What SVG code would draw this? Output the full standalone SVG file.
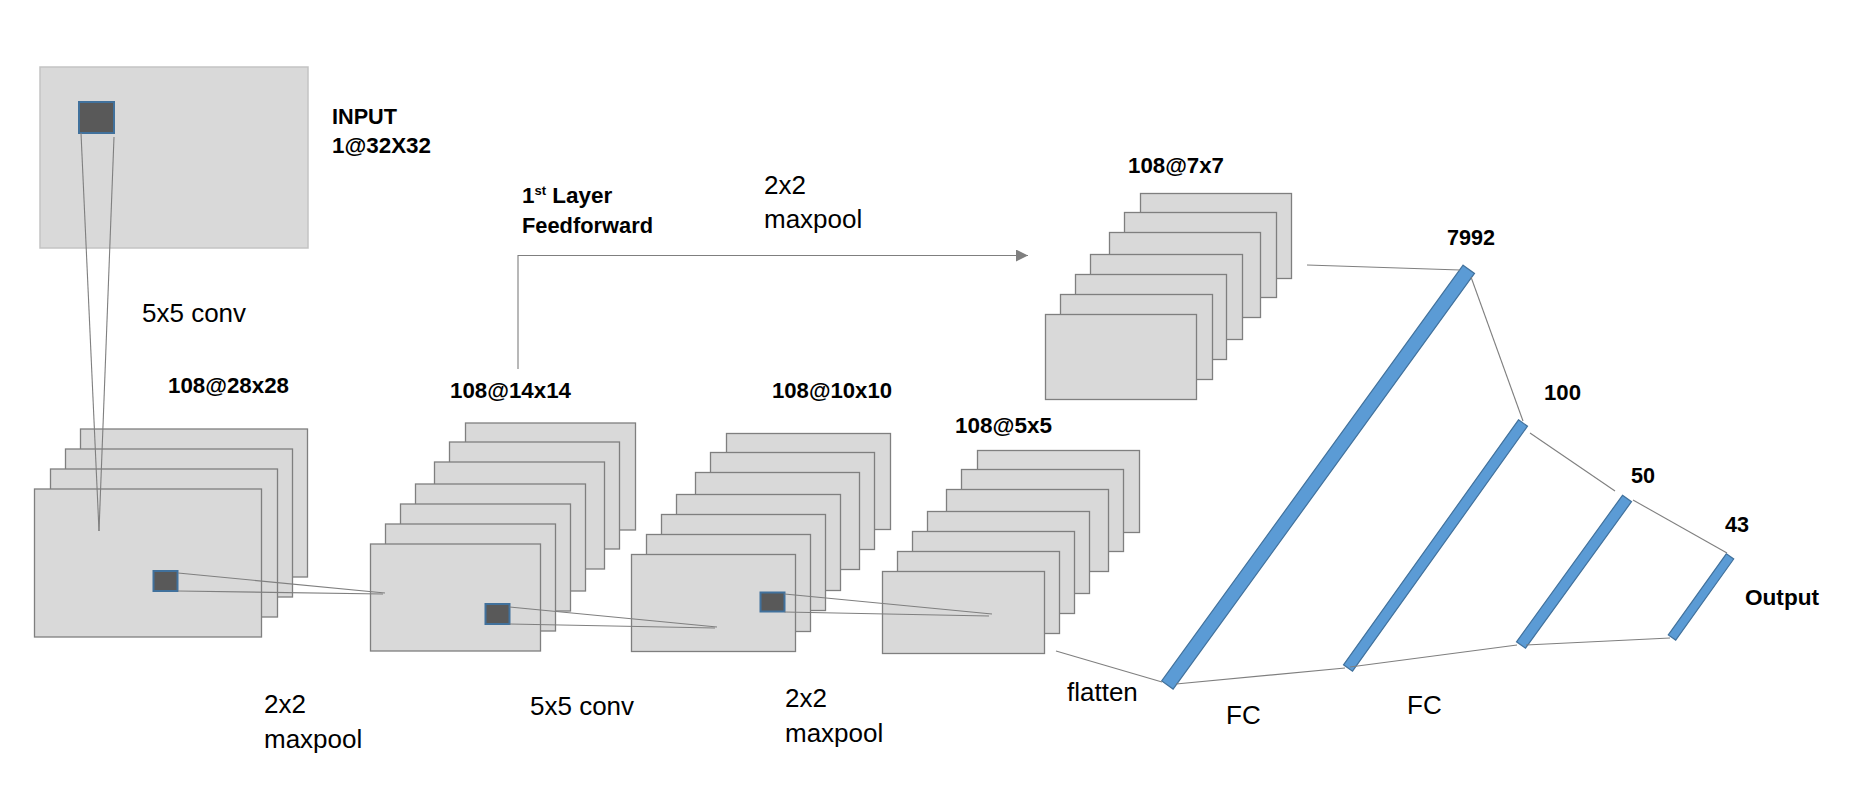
<svg xmlns="http://www.w3.org/2000/svg" width="1875" height="804" viewBox="0 0 1875 804">
<style>
.map{fill:#d9d9d9;stroke:#7f7f7f;stroke-width:1.3}
.inp{fill:#d9d9d9;stroke:#c3c3c3;stroke-width:1.5}
.ker{fill:#595959;stroke:#41719c;stroke-width:2}
.bar{fill:#5b9bd5;stroke:#41719c;stroke-width:1.2}
.ln{fill:none;stroke:#7f7f7f;stroke-width:1.1}
.b{font-family:"Liberation Sans",Arial,sans-serif;font-weight:bold;font-size:22.5px;fill:#000}
.r{font-family:"Liberation Sans",Arial,sans-serif;font-size:26px;fill:#000}
</style>
<defs>
<marker id="arr" markerUnits="userSpaceOnUse" markerWidth="13" markerHeight="13" refX="12" refY="6" orient="auto">
<path d="M0,0 L12,6 L0,12 z" fill="#7f7f7f"/>
</marker>
</defs>
<rect width="1875" height="804" fill="#fff"/>

<g id="input">
<rect class="inp" x="40" y="67" width="268" height="181"/>
<rect class="ker" x="79" y="102" width="35" height="31"/>
<text class="b" x="332" y="124" textLength="65" lengthAdjust="spacingAndGlyphs">INPUT</text>
<text class="b" x="332" y="153" textLength="99" lengthAdjust="spacingAndGlyphs">1@32X32</text>
</g>

<g id="conv1-maps">
<rect class="map" x="80.5" y="429" width="227" height="148"/>
<rect class="map" x="65.5" y="449" width="227" height="148"/>
<rect class="map" x="50.5" y="469" width="227" height="148"/>
<rect class="map" x="34.5" y="489" width="227" height="148"/>
<rect class="ker" x="153.5" y="571" width="24" height="20"/>
<text class="b" x="168" y="393" textLength="121" lengthAdjust="spacingAndGlyphs">108@28x28</text>
</g>

<g id="pool1-maps">
<rect class="map" x="465.5" y="423" width="170" height="107"/>
<rect class="map" x="449.5" y="442" width="170" height="107"/>
<rect class="map" x="434.5" y="462" width="170" height="107"/>
<rect class="map" x="415.5" y="484" width="170" height="107"/>
<rect class="map" x="400.5" y="504" width="170" height="107"/>
<rect class="map" x="385.5" y="524" width="170" height="107"/>
<rect class="map" x="370.5" y="544" width="170" height="107"/>
<rect class="ker" x="485.5" y="604" width="24" height="20"/>
<text class="b" x="450" y="398" textLength="121" lengthAdjust="spacingAndGlyphs">108@14x14</text>
</g>

<g id="conv2-maps">
<rect class="map" x="726.5" y="433.5" width="164" height="96"/>
<rect class="map" x="710.5" y="452.5" width="164" height="97"/>
<rect class="map" x="695.5" y="472.5" width="164" height="97"/>
<rect class="map" x="676.5" y="494.5" width="164" height="96"/>
<rect class="map" x="661.5" y="514.5" width="164" height="96"/>
<rect class="map" x="646.5" y="534.5" width="164" height="97"/>
<rect class="map" x="631.5" y="554.5" width="164" height="97"/>
<rect class="ker" x="760.5" y="592.5" width="24" height="19"/>
<text class="b" x="772" y="398" textLength="120" lengthAdjust="spacingAndGlyphs">108@10x10</text>
</g>

<g id="pool2-maps">
<rect class="map" x="977.5" y="450.5" width="162" height="82"/>
<rect class="map" x="961.5" y="469.5" width="162" height="82"/>
<rect class="map" x="946.5" y="489.5" width="162" height="82"/>
<rect class="map" x="927.5" y="511.5" width="162" height="82"/>
<rect class="map" x="912.5" y="531.5" width="162" height="82"/>
<rect class="map" x="897.5" y="551.5" width="162" height="82"/>
<rect class="map" x="882.5" y="571.5" width="162" height="82"/>
<text class="b" x="955" y="433" textLength="97" lengthAdjust="spacingAndGlyphs">108@5x5</text>
</g>

<g id="ff-maps">
<rect class="map" x="1140.5" y="193.5" width="151" height="85"/>
<rect class="map" x="1124.5" y="212.5" width="152" height="85"/>
<rect class="map" x="1109.5" y="232.5" width="151" height="85"/>
<rect class="map" x="1090.5" y="254.5" width="152" height="85"/>
<rect class="map" x="1075.5" y="274.5" width="151" height="85"/>
<rect class="map" x="1060.5" y="294.5" width="152" height="85"/>
<rect class="map" x="1045.5" y="314.5" width="151" height="85"/>
<text class="b" x="1128" y="173" textLength="96" lengthAdjust="spacingAndGlyphs">108@7x7</text>
</g>

<g id="fc-7992">
<polygon class="bar" points="1463.1,265.2 1474.5,273.4 1173.1,689.1 1161.7,680.9"/>
<text class="b" x="1447" y="245" textLength="48" lengthAdjust="spacingAndGlyphs">7992</text>
</g>
<g id="fc-100">
<polygon class="bar" points="1518.5,419.8 1527.5,426.2 1352.5,671.2 1343.5,664.8"/>
<text class="b" x="1544" y="400" textLength="37" lengthAdjust="spacingAndGlyphs">100</text>
</g>
<g id="fc-50">
<polygon class="bar" points="1622.5,495.3 1631.5,501.7 1525.5,648.2 1516.5,641.8"/>
<text class="b" x="1631" y="483" textLength="24" lengthAdjust="spacingAndGlyphs">50</text>
</g>
<g id="fc-43">
<polygon class="bar" points="1726.3,553.8 1733.7,559 1675.7,640.1 1668.3,634.9"/>
<text class="b" x="1725" y="532" textLength="24" lengthAdjust="spacingAndGlyphs">43</text>
<text class="b" x="1745" y="605" textLength="74" lengthAdjust="spacingAndGlyphs">Output</text>
</g>

<g id="connectors">
<line class="ln" x1="81" y1="133" x2="99" y2="531"/>
<line class="ln" x1="114" y1="137" x2="99" y2="531"/>
<line class="ln" x1="178" y1="573" x2="385" y2="593"/>
<line class="ln" x1="178" y1="591" x2="383" y2="594"/>
<line class="ln" x1="509.5" y1="607" x2="717" y2="627"/>
<line class="ln" x1="509.5" y1="624" x2="715" y2="628"/>
<line class="ln" x1="784.5" y1="594" x2="992" y2="614"/>
<line class="ln" x1="784.5" y1="612" x2="989" y2="616"/>
<polyline class="ln" points="518,369 518,255.5 1028,255.5" marker-end="url(#arr)"/>
<line class="ln" x1="1056" y1="651" x2="1162" y2="682"/>
<line class="ln" x1="1307" y1="265" x2="1460" y2="270"/>
<line class="ln" x1="1471" y1="277" x2="1523" y2="421"/>
<line class="ln" x1="1530" y1="433" x2="1615" y2="491"/>
<line class="ln" x1="1633" y1="500" x2="1727" y2="553"/>
<line class="ln" x1="1176" y1="684" x2="1345" y2="668"/>
<line class="ln" x1="1350" y1="667" x2="1517" y2="645"/>
<line class="ln" x1="1526" y1="645" x2="1670" y2="638"/>
</g>

<g id="labels">
<text class="r" x="142" y="322">5x5 conv</text>
<text class="b" x="522" y="203" font-size="21">1<tspan font-size="13" dy="-8">st</tspan><tspan dy="8"> Layer</tspan></text>
<text class="b" x="522" y="233" font-size="21" textLength="131" lengthAdjust="spacingAndGlyphs">Feedforward</text>
<text class="r" x="764" y="194">2x2</text>
<text class="r" x="764" y="228">maxpool</text>
<text class="r" x="264" y="713">2x2</text>
<text class="r" x="264" y="748">maxpool</text>
<text class="r" x="530" y="715">5x5 conv</text>
<text class="r" x="785" y="707">2x2</text>
<text class="r" x="785" y="742">maxpool</text>
<text class="r" x="1067" y="701">flatten</text>
<text class="r" x="1226" y="724">FC</text>
<text class="r" x="1407" y="714">FC</text>
</g>
</svg>
